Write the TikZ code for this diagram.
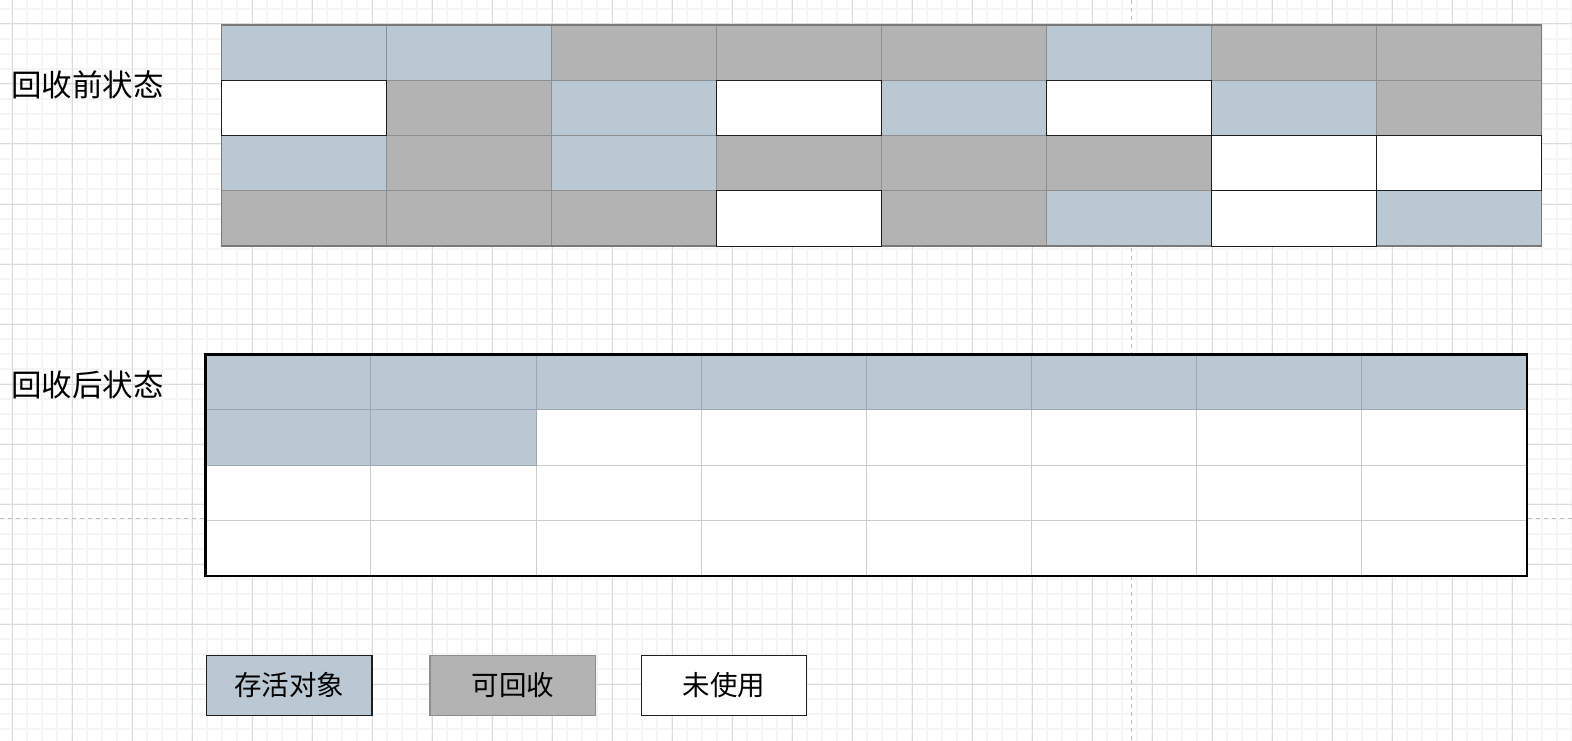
\documentclass[tikz,border=0pt]{standalone}
\usepackage{fontspec}
\newfontfamily\cjk{Noto Sans CJK SC}
\definecolor{live}{HTML}{BAC8D3}
\definecolor{dead}{HTML}{B3B3B3}
\definecolor{gridmajor}{HTML}{DCDCDC}
\definecolor{gridminor}{HTML}{F5F5F5}
\definecolor{pageline}{HTML}{BDBDBD}
\definecolor{cellline}{HTML}{8E8E8E}
\definecolor{liveline}{HTML}{9DA8B2}
\definecolor{emptyline}{HTML}{CCCCCC}
\definecolor{darkline}{HTML}{1E1E1E}
\tikzset{
  minorgrid/.style={draw=gridminor, line width=1.3pt},
  majorgrid/.style={draw=gridmajor, line width=1pt},
  pagebreak/.style={draw=pageline, line width=1pt, dash pattern=on 4pt off 4pt},
  topcell/.style={minimum width=165pt, minimum height=55.35pt, inner sep=0pt, outer sep=0pt, anchor=north west, line width=1pt},
  botcell/.style={minimum width=165.16pt, minimum height=55.43pt, inner sep=0pt, outer sep=0pt, anchor=north west, line width=1pt},
  keybox/.style={minimum width=165.5pt, minimum height=60pt, inner sep=0pt, outer sep=0pt, line width=1.4pt, font=\cjk\fontsize{27.5}{30}\selectfont},
  stateLabel/.style={anchor=west, inner sep=0pt, font=\cjk\fontsize{30.5}{33}\selectfont}
}
\begin{document}
\begin{tikzpicture}[x=1pt,y=-1pt]
\useasboundingbox (0,0) rectangle (1572,741);
\fill[white] (0,0) rectangle (1572,741);
% background grid
\foreach \k in {0,...,104} \draw[minorgrid] ({12+15*\k},0) -- ({12+15*\k},741);
\foreach \k in {-1,...,47} \draw[minorgrid] (0,{24+15*\k}) -- (1572,{24+15*\k});
\foreach \k in {0,...,26} \draw[majorgrid] ({12+60*\k},0) -- ({12+60*\k},741);
\foreach \k in {0,...,11} \draw[majorgrid] (0,{24+60*\k}) -- (1572,{24+60*\k});
\draw[pagebreak] (1131.5,0) -- (1131.5,741);
\draw[pagebreak] (0,518.5) -- (1572,518.5);

% labels
\node[stateLabel] (before) at (11,85) {回收前状态};
\node[stateLabel] (after) at (11,385) {回收后状态};

% top table: coloured cells
\foreach \r/\c in {1/1,1/2,1/6,2/3,2/5,2/7,3/1,3/3,4/6,4/8}
  \node[topcell, fill=live, draw=cellline] (top-\r-\c) at ({221.5+165*(\c-1)},{24.8+55.35*(\r-1)}) {};
\foreach \r/\c in {1/3,1/4,1/5,1/7,1/8,2/2,2/8,3/2,3/4,3/5,3/6,4/1,4/2,4/3,4/5}
  \node[topcell, fill=dead, draw=cellline] (top-\r-\c) at ({221.5+165*(\c-1)},{24.8+55.35*(\r-1)}) {};
\draw[draw=gray!95!black, line width=1.6pt] (top-1-1.north west) rectangle (top-4-8.south east);
\foreach \r/\c in {2/1,2/4,2/6,3/7,3/8,4/4,4/7}
  \node[topcell, fill=white, draw=darkline, line width=1.2pt] (top-\r-\c) at ({221.5+165*(\c-1)},{24.8+55.35*(\r-1)}) {};

% bottom table
\foreach \r in {2,3,4}
  \foreach \c in {1,...,8}
    \node[botcell, fill=white, draw=emptyline] (bot-\r-\c) at ({205.7+165.16*(\c-1)},{354.3+55.43*(\r-1)}) {};
\foreach \c in {1,...,8}
  \node[botcell, fill=live, draw=liveline] (bot-1-\c) at ({205.7+165.16*(\c-1)},354.3) {};
\foreach \c in {1,2}
  \node[botcell, fill=live, draw=liveline] (bot-2-\c) at ({205.7+165.16*(\c-1)},{354.3+55.43}) {};
\draw[draw=black, line width=2.5pt] (bot-1-1.north west) rectangle (bot-4-8.south east);

% legend
\node[keybox, fill=live, draw=darkline] (key-live) at (289.2,685.2) {存活对象};
\node[keybox, fill=dead, draw=cellline] (key-dead) at (512.8,685.2) {可回收};
\node[keybox, fill=white, draw=darkline] (key-free) at (724,685.2) {未使用};
\end{tikzpicture}
\end{document}
